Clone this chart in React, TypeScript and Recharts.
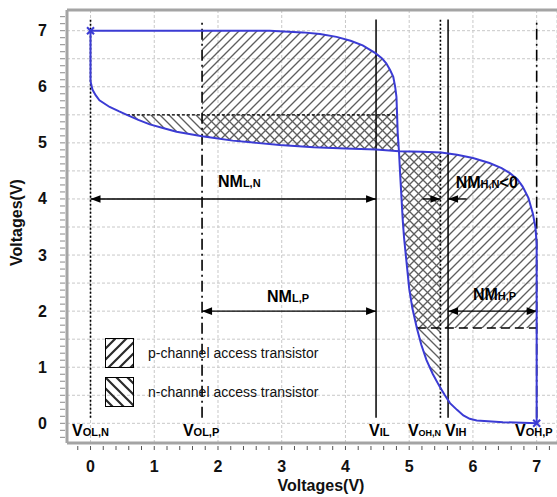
import React from 'react';
import {
  ComposedChart,
  Line,
  Area,
  Scatter,
  XAxis,
  YAxis,
  CartesianGrid,
  ReferenceLine,
} from 'recharts';

const FONT = '"Liberation Sans", Arial, Helvetica, sans-serif';
const BLUE = '#3b3bd4';
const FRAME = '#a4a4a4';

// ---------- axes ----------
const xDomain: [number, number] = [-0.369, 7.319];
const yDomain: [number, number] = [-0.351, 7.369];
const xTickLabels = [0, 1, 2, 3, 4, 5, 6, 7];
const yTickLabels = [0, 1, 2, 3, 4, 5, 6, 7];
const xMinorTicks = Array.from({ length: 38 }, (_, i) => Math.round((-0.2 + i * 0.2) * 10) / 10);
const yMinorTicks = Array.from({ length: 61 }, (_, i) => Math.round((-0.25 + i * 0.125) * 1000) / 1000);
const xGrid = [0, 1, 2, 3, 4, 5, 6, 7];
const yGrid = [0, 0.5, 1, 1.5, 2, 2.5, 3, 3.5, 4, 4.5, 5, 5.5, 6, 6.5, 7];

// ---------- transfer curves (x = input V, y = output V) ----------
const curveAPoints: [number, number][] = [
  [0, 7], [0, 6.5], [0, 6.1], [0.03, 5.95], [0.08, 5.85], [0.14, 5.76], [0.3, 5.64],
  [0.45, 5.56], [0.57, 5.5], [0.75, 5.41], [0.93, 5.33], [1.15, 5.26], [1.35, 5.2],
  [1.55, 5.16], [1.75, 5.12], [2.0, 5.08], [2.23, 5.04], [2.6, 5.0], [2.97, 4.96],
  [3.5, 4.92], [4.0, 4.9], [4.48, 4.88], [4.84, 4.85], [5.2, 4.84], [5.5, 4.83],
  [5.75, 4.79], [6.0, 4.73], [6.26, 4.64], [6.45, 4.55], [6.58, 4.46], [6.7, 4.35],
  [6.78, 4.22], [6.87, 4.02], [6.94, 3.74], [6.98, 3.5], [7.0, 3.2], [7.0, 2.5], [7.0, 0],
];
const curveBPoints: [number, number][] = [
  [0, 7], [1.0, 7], [2.0, 7], [2.81, 7.0], [3.33, 6.97], [3.6, 6.94], [3.86, 6.89],
  [4.08, 6.82], [4.27, 6.74], [4.47, 6.6], [4.57, 6.51], [4.64, 6.42], [4.7, 6.3],
  [4.75, 6.18], [4.78, 6.0], [4.8, 5.82], [4.81, 5.5], [4.82, 5.17], [4.84, 4.84],
  [4.86, 4.4], [4.88, 4.0], [4.9, 3.6], [4.92, 3.3], [4.96, 2.85], [5.0, 2.4],
  [5.05, 2.05], [5.12, 1.7], [5.19, 1.4], [5.27, 1.13], [5.37, 0.88], [5.48, 0.65],
  [5.56, 0.5], [5.64, 0.36], [5.75, 0.24], [5.85, 0.14], [5.95, 0.08], [6.06, 0.05],
  [6.47, 0.02], [7.0, 0.0],
];
const endPoints: [number, number][] = [[0, 7], [7, 0]];

// ---------- hatched regions: [x, low, high] ----------
const pUpper: [number, number, number][] = [
  [1.75, 5.12, 7], [2.0, 5.08, 7], [2.23, 5.04, 7], [2.6, 5.0, 7], [2.81, 4.98, 7],
  [2.97, 4.96, 6.99], [3.33, 4.93, 6.97], [3.6, 4.92, 6.94], [3.86, 4.91, 6.89],
  [4.08, 4.9, 6.82], [4.27, 4.89, 6.74], [4.47, 4.88, 6.6], [4.57, 4.87, 6.51],
  [4.64, 4.87, 6.42], [4.7, 4.86, 6.3], [4.75, 4.86, 6.18], [4.78, 4.86, 6.0],
  [4.8, 4.85, 5.82], [4.81, 4.85, 5.5], [4.82, 4.85, 5.17], [4.84, 4.85, 4.85],
];
const nUpper: [number, number, number][] = [
  [0.57, 5.5, 5.5], [0.75, 5.41, 5.5], [0.93, 5.33, 5.5], [1.15, 5.26, 5.5],
  [1.35, 5.2, 5.5], [1.55, 5.16, 5.5], [1.75, 5.12, 5.5], [2.0, 5.08, 5.5],
  [2.23, 5.04, 5.5], [2.6, 5.0, 5.5], [2.97, 4.96, 5.5], [3.5, 4.92, 5.5],
  [4.0, 4.9, 5.5], [4.48, 4.88, 5.5], [4.81, 4.85, 5.5], [4.82, 4.85, 5.17],
  [4.84, 4.85, 4.85],
];
const pLower: [number, number, number][] = [
  [4.84, 4.85, 4.85], [4.86, 4.4, 4.85], [4.88, 4.0, 4.85], [4.9, 3.6, 4.85],
  [4.92, 3.3, 4.85], [4.96, 2.85, 4.84], [5.0, 2.4, 4.84], [5.05, 2.05, 4.84],
  [5.12, 1.7, 4.84], [5.5, 1.7, 4.83], [5.75, 1.7, 4.79], [6.0, 1.7, 4.73],
  [6.26, 1.7, 4.64], [6.45, 1.7, 4.55], [6.58, 1.7, 4.46], [6.7, 1.7, 4.35],
  [6.78, 1.7, 4.22], [6.87, 1.7, 4.02], [6.94, 1.7, 3.74], [6.98, 1.7, 3.5],
  [7.0, 1.7, 3.2],
];
const nLower: [number, number, number][] = [
  [4.84, 4.85, 4.85], [4.86, 4.4, 4.85], [4.88, 4.0, 4.85], [4.9, 3.6, 4.85],
  [4.92, 3.3, 4.85], [4.96, 2.85, 4.84], [5.0, 2.4, 4.84], [5.05, 2.05, 4.84],
  [5.12, 1.7, 4.84], [5.19, 1.4, 4.84], [5.27, 1.13, 4.84], [5.37, 0.88, 4.83],
  [5.48, 0.65, 4.83], [5.49, 0.63, 4.83],
];

// ---------- levels ----------
const VOL_N = 0;
const VOL_P = 1.75;
const VIL = 4.48;
const VOH_N = 5.49;
const VIH = 5.61;
const VOH_P = 7.0;
const levelSpan: [number, number] = [0.1, 7.2];
const nLevel = 5.5; // dotted
const nLevelRange: [number, number] = [0.57, 4.81];
const pLevel = 1.7; // dashed
const pLevelRange: [number, number] = [5.12, 7.0];
const nmLowY = 4;
const nmHighY = 2;
const nmHNArrows: [number, number][] = [[5.21, VOH_N], [5.9, VIH]];

// ---------- annotation text ----------
const annotations = [
  { x: -0.29, y: -0.226, main: 'V', sub: 'OL,N', tail: '' },
  { x: 1.45, y: -0.226, main: 'V', sub: 'OL,P', tail: '' },
  { x: 4.37, y: -0.226, main: 'V', sub: 'IL', tail: '' },
  { x: 4.98, y: -0.226, main: 'V', sub: 'OH,N', tail: '' },
  { x: 5.56, y: -0.226, main: 'V', sub: 'IH', tail: '' },
  { x: 6.66, y: -0.226, main: 'V', sub: 'OH,P', tail: '' },
  { x: 2.0, y: 4.22, main: 'NM', sub: 'L,N', tail: '' },
  { x: 5.73, y: 4.19, main: 'NM', sub: 'H,N', tail: '<0' },
  { x: 2.77, y: 2.16, main: 'NM', sub: 'L,P', tail: '' },
  { x: 6.0, y: 2.2, main: 'NM', sub: 'H,P', tail: '' },
];
const legendItems = ['p-channel access transistor', 'n-channel access transistor'];

const toXY = (a: [number, number][]) => a.map(([x, y]) => ({ x, y }));
const toRange = (a: [number, number, number][]) => a.map(([x, lo, hi]) => ({ x, r: [lo, hi] }));

const isInt = (v: number) => Math.abs(v - Math.round(v)) < 1e-6;

const XTick = (props: any) => {
  const { x, y, payload } = props;
  const v = payload.value;
  const show = isInt(v) && xTickLabels.includes(Math.round(v));
  return (
    <g>
      <line x1={x} x2={x} y1={y + 3} y2={y + 7} stroke="#555" strokeWidth={1} />
      {show && (
        <text x={x} y={y + 29} textAnchor="middle" fontFamily={FONT} fontSize={16} fontWeight="bold" fill="#111">
          {Math.round(v)}
        </text>
      )}
    </g>
  );
};

const YTick = (props: any) => {
  const { x, y, payload } = props;
  const v = payload.value;
  const show = isInt(v) && yTickLabels.includes(Math.round(v));
  return (
    <g>
      <line x1={x - 7} x2={x - 2} y1={y} y2={y} stroke="#8a8a8a" strokeWidth={1} />
      {show && (
        <text x={x - 20} y={y + 5.5} textAnchor="end" fontFamily={FONT} fontSize={16} fontWeight="bold" fill="#111">
          {Math.round(v)}
        </text>
      )}
    </g>
  );
};

const arrowHead = (px: number, py: number, a: number, key: string) => {
  const L = 10;
  const W = 3.8;
  const bx = px - L * Math.cos(a);
  const by = py - L * Math.sin(a);
  const nx = -Math.sin(a) * W;
  const ny = Math.cos(a) * W;
  return <polygon key={key} points={`${px},${py} ${bx + nx},${by + ny} ${bx - nx},${by - ny}`} fill="#000" />;
};

const makeArrow = (heads: 'both' | 'end') => (p: any) => {
  const { x1, y1, x2, y2 } = p;
  const a = Math.atan2(y2 - y1, x2 - x1);
  return (
    <g>
      <line x1={x1} y1={y1} x2={x2} y2={y2} stroke="#000" strokeWidth={1.4} />
      {heads === 'both' && arrowHead(x1, y1, a + Math.PI, 's')}
      {arrowHead(x2, y2, a, 'e')}
    </g>
  );
};

const AnnotationShape = (p: any) => {
  const { cx, cy, payload } = p;
  if (cx == null || cy == null) return <g />;
  const subSize = payload.sub === 'OH,N' ? 9 : 11;
  return (
    <text x={cx} y={cy} fontFamily={FONT} fill="#000" fontWeight="bold">
      <tspan fontSize={16}>{payload.main}</tspan>
      <tspan fontSize={subSize}>{payload.sub}</tspan>
      {payload.tail ? <tspan fontSize={16}>{payload.tail}</tspan> : null}
    </text>
  );
};

const XMark = (p: any) => {
  const { cx, cy } = p;
  if (cx == null || cy == null) return <g />;
  const s = 3.5;
  return (
    <g stroke={BLUE} strokeWidth={2}>
      <line x1={cx - s} y1={cy - s} x2={cx + s} y2={cy + s} />
      <line x1={cx - s} y1={cy + s} x2={cx + s} y2={cy - s} />
    </g>
  );
};

const Swatch = ({ dir }: { dir: 'p' | 'n' }) => (
  <svg width={29} height={30} style={{ display: 'block' }}>
    <defs>
      <pattern id={`lg${dir}`} patternUnits="userSpaceOnUse" width={11} height={11}>
        {dir === 'p' ? (
          <path d="M-2,2 L2,-2 M0,11 L11,0 M9,13 L13,9" stroke="#2a2a2a" strokeWidth={2.2} />
        ) : (
          <path d="M-2,9 L2,13 M0,0 L11,11 M9,-2 L13,2" stroke="#2a2a2a" strokeWidth={2.2} />
        )}
      </pattern>
    </defs>
    <rect x={0.5} y={0.5} width={28} height={29} fill={`url(#lg${dir})`} stroke="#000" strokeWidth={1} />
  </svg>
);

export default function App() {
  const vLines = [
    { x: VOL_N, dash: '2 2', w: 1.6 },
    { x: VOL_P, dash: '11 4 2 4', w: 1.6 },
    { x: VIL, dash: undefined, w: 1.5 },
    { x: VOH_N, dash: '2 2', w: 1.6 },
    { x: VIH, dash: undefined, w: 1.5 },
    { x: VOH_P, dash: '11 4 2 4', w: 1.6 },
  ];
  return (
    <div style={{ position: 'absolute', left: 0, top: 0, width: 557, height: 497, background: '#fff' }}>
      <ComposedChart width={557} height={497} margin={{ top: 10, right: 0, bottom: 0, left: 0 }}>
        <defs>
          <pattern id="hatchP" patternUnits="userSpaceOnUse" width={9} height={9}>
            <path d="M-1,1 L1,-1 M0,9 L9,0 M8,10 L10,8" stroke="#5e5e5e" strokeWidth={1.35} />
          </pattern>
          <pattern id="hatchN" patternUnits="userSpaceOnUse" width={9} height={9}>
            <path d="M-1,8 L1,10 M0,0 L9,9 M8,-1 L10,1" stroke="#5e5e5e" strokeWidth={1.35} />
          </pattern>
        </defs>
        <XAxis
          xAxisId="g"
          type="number"
          dataKey="x"
          domain={xDomain}
          ticks={xGrid}
          allowDataOverflow
          hide
        />
        <YAxis yAxisId="g" type="number" domain={yDomain} ticks={yGrid} allowDataOverflow hide />
        <CartesianGrid xAxisId="g" yAxisId="g" stroke="#c8c8c8" strokeDasharray="3 2" />
        <XAxis
          type="number"
          dataKey="x"
          domain={xDomain}
          ticks={xMinorTicks}
          interval={0}
          allowDataOverflow
          height={54}
          tickSize={0}
          tickMargin={0}
          tickLine={false}
          tick={<XTick />}
          axisLine={{ stroke: FRAME, strokeWidth: 3 }}
          label={(p: any) => {
            const vb = p.viewBox || { x: 67, y: 443, width: 490, height: 54 };
            return (
              <text x={vb.x + vb.width / 2 + 9} y={vb.y + 48} textAnchor="middle" fontFamily={FONT} fontSize={16} fontWeight="bold" fill="#111">
                Voltages(V)
              </text>
            );
          }}
        />
        <YAxis
          type="number"
          domain={yDomain}
          ticks={yMinorTicks}
          interval={0}
          allowDataOverflow
          width={67}
          tickSize={0}
          tickMargin={0}
          tickLine={false}
          tick={<YTick />}
          axisLine={{ stroke: FRAME, strokeWidth: 3 }}
          label={(p: any) => {
            const vb = p.viewBox || { x: 0, y: 10, width: 67, height: 433 };
            const cy = vb.y + vb.height / 2 - 4;
            return (
              <text x={22} y={cy} transform={`rotate(-90, 22, ${cy})`} textAnchor="middle" fontFamily={FONT} fontSize={16} fontWeight="bold" fill="#111">
                Voltages(V)
              </text>
            );
          }}
        />
        <ReferenceLine y={yDomain[1]} stroke={FRAME} strokeWidth={3} />

        <Area data={toRange(nUpper)} dataKey="r" type="linear" stroke="none" fill="url(#hatchN)" fillOpacity={1} isAnimationActive={false} activeDot={false} />
        <Area data={toRange(pUpper)} dataKey="r" type="linear" stroke="none" fill="url(#hatchP)" fillOpacity={1} isAnimationActive={false} activeDot={false} />
        <Area data={toRange(nLower)} dataKey="r" type="linear" stroke="none" fill="url(#hatchN)" fillOpacity={1} isAnimationActive={false} activeDot={false} />
        <Area data={toRange(pLower)} dataKey="r" type="linear" stroke="none" fill="url(#hatchP)" fillOpacity={1} isAnimationActive={false} activeDot={false} />

        {vLines.map((l, i) => (
          <ReferenceLine
            key={`v${i}`}
            segment={[{ x: l.x, y: levelSpan[0] }, { x: l.x, y: levelSpan[1] }]}
            stroke="#000"
            strokeWidth={l.w}
            strokeDasharray={l.dash}
          />
        ))}
        <ReferenceLine
          segment={[{ x: nLevelRange[0], y: nLevel }, { x: nLevelRange[1], y: nLevel }]}
          stroke="#000"
          strokeWidth={1.4}
          strokeDasharray="3 2"
        />
        <ReferenceLine
          segment={[{ x: pLevelRange[0], y: pLevel }, { x: pLevelRange[1], y: pLevel }]}
          stroke="#000"
          strokeWidth={1.5}
          strokeDasharray="9 5"
        />
        <ReferenceLine segment={[{ x: VOL_N, y: nmLowY }, { x: VIL, y: nmLowY }]} shape={makeArrow('both')} />
        <ReferenceLine segment={[{ x: VOL_P, y: nmHighY }, { x: VIL, y: nmHighY }]} shape={makeArrow('both')} />
        <ReferenceLine segment={[{ x: VIH, y: nmHighY }, { x: VOH_P, y: nmHighY }]} shape={makeArrow('both')} />
        {nmHNArrows.map(([from, to], i) => (
          <ReferenceLine key={`hn${i}`} segment={[{ x: from, y: nmLowY }, { x: to, y: nmLowY }]} shape={makeArrow('end')} />
        ))}

        <Line data={toXY(curveAPoints)} dataKey="y" type="linear" stroke={BLUE} strokeWidth={2} dot={false} activeDot={false} isAnimationActive={false} />
        <Line data={toXY(curveBPoints)} dataKey="y" type="linear" stroke={BLUE} strokeWidth={2} dot={false} activeDot={false} isAnimationActive={false} />
        <Scatter data={toXY(endPoints)} dataKey="y" shape={<XMark />} isAnimationActive={false} />
        <Scatter data={annotations} dataKey="y" shape={<AnnotationShape />} isAnimationActive={false} />
      </ComposedChart>

      {legendItems.map((t, i) => (
        <div
          key={t}
          style={{ position: 'absolute', left: 105, top: 338 + i * 39, display: 'flex', alignItems: 'center', fontFamily: FONT, fontSize: 14, color: '#111' }}
        >
          <Swatch dir={i === 0 ? 'p' : 'n'} />
          <span style={{ marginLeft: 14, whiteSpace: 'nowrap' }}>{t}</span>
        </div>
      ))}
    </div>
  );
}
